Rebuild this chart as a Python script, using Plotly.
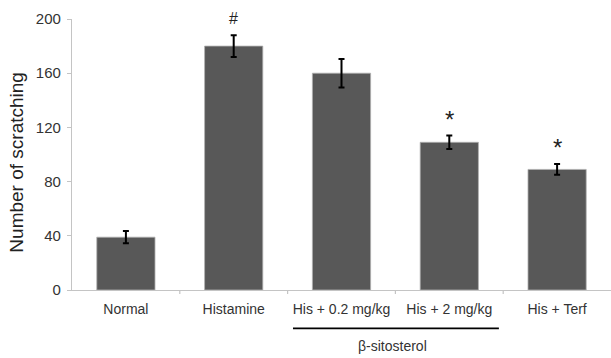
import plotly.graph_objects as go

categories = ["Normal", "Histamine", "His + 0.2 mg/kg", "His + 2 mg/kg", "His + Terf"]
values = [39, 180, 160, 109, 89]
errors = [4.5, 8, 10.5, 5, 4]
marks = ["", "#", "", "*", "*"]
y_ticks = [0, 40, 80, 120, 160, 200]

FONT = "Liberation Sans, Arial, sans-serif"

fig = go.Figure()
fig.add_trace(go.Bar(
    x=list(range(len(categories))),
    y=values,
    width=0.54,
    marker=dict(color="#585858", line=dict(color="#b0b0b0", width=0.8)),
    error_y=dict(type="data", array=errors, visible=True, color="black", thickness=2, width=3),
))

for i, (v, e, m) in enumerate(zip(values, errors, marks)):
    if m:
        fig.add_annotation(
            x=i, y=v + e, xref="x", yref="y", text=m, showarrow=False,
            yanchor="bottom", yshift=6 if m == "#" else 1,
            font=dict(family=FONT, size=16 if m == "#" else 24, color="#222"),
        )

fig.add_shape(type="line", xref="x", yref="paper", x0=1.55, x1=3.46, y0=-0.1415, y1=-0.1415,
              line=dict(color="black", width=1.8))
fig.add_annotation(x=2.47, y=-0.2066, xref="x", yref="paper", text="β-sitosterol", showarrow=False,
                   yanchor="middle", font=dict(family=FONT, size=14, color="#333"))
fig.add_annotation(x=-0.102, y=0.47, xref="paper", yref="paper", xanchor="center", yanchor="middle",
                   text="Number of scratching", showarrow=False, textangle=-90,
                   font=dict(family=FONT, size=19, color="#222"))

fig.update_layout(
    width=611, height=358,
    margin=dict(l=72, r=0, t=19, b=68),
    paper_bgcolor="white", plot_bgcolor="white",
    showlegend=False,
    font=dict(family=FONT, color="#333"),
)
fig.update_xaxes(
    tickmode="array", tickvals=list(range(len(categories))), ticktext=categories,
    range=[-0.5, 4.5], showline=True, linecolor="#c4c4c4", linewidth=1.2,
    ticks="", showgrid=False, zeroline=False, ticklabelstandoff=6,
    tickfont=dict(family=FONT, size=14, color="#333"),
)
fig.update_yaxes(
    range=[0, 200], tickvals=y_ticks, showline=True, linecolor="#c4c4c4", linewidth=1.2,
    ticks="outside", ticklen=4, tickcolor="#c4c4c4", showgrid=False, zeroline=False,
    ticklabelstandoff=3,
    tickfont=dict(family=FONT, size=15, color="#333"),
)
for b in [0.5, 1.5, 2.5, 3.5]:
    fig.add_shape(type="line", xref="x", yref="paper", x0=b, x1=b, y0=0, y1=-0.015,
                  line=dict(color="#c4c4c4", width=1.2))

fig.write_html("out.html", config={"displayModeBar": False},
               post_script="document.body.style.margin='0';")
